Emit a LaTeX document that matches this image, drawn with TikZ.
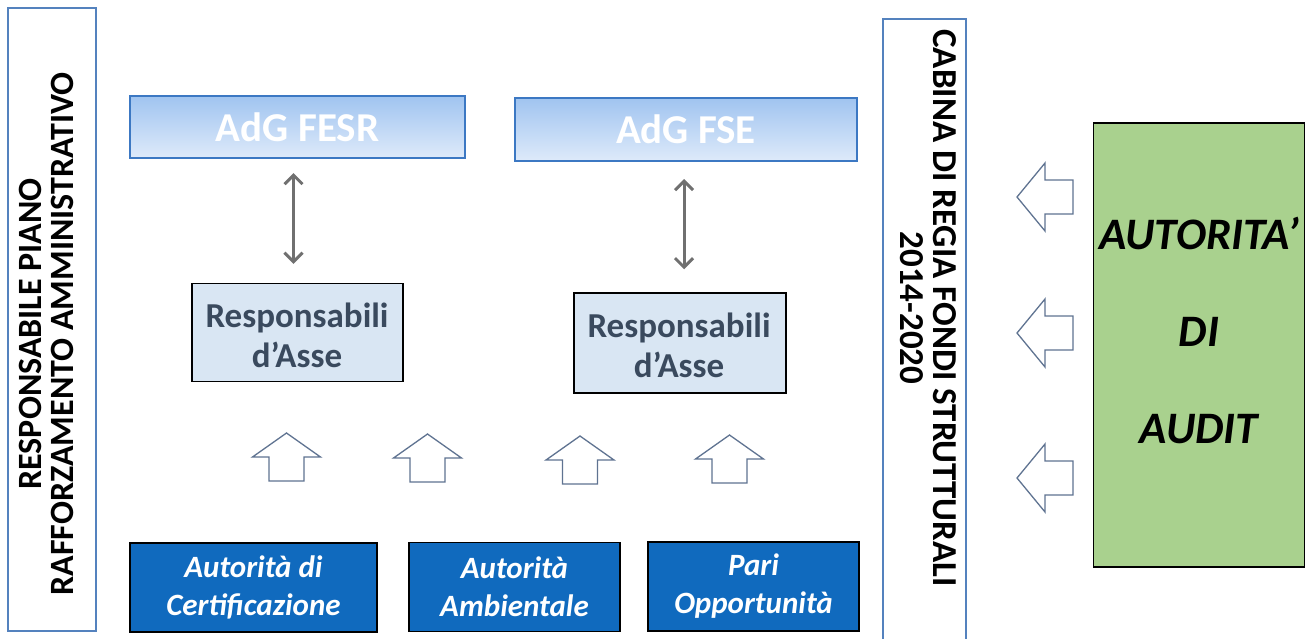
\documentclass[tikz,border=0pt]{standalone}
\usepackage{fontspec}
\setmainfont{Carlito}
\usetikzlibrary{arrows.meta}
\definecolor{frameblue}{RGB}{84,130,190}
\definecolor{adgtop}{RGB}{160,196,240}
\definecolor{adgbot}{RGB}{222,234,250}
\definecolor{adgline}{RGB}{60,120,195}
\definecolor{respfill}{RGB}{217,230,243}
\definecolor{resptext}{RGB}{58,74,94}
\definecolor{darkbluefill}{RGB}{16,106,190}
\definecolor{auditgreen}{RGB}{169,209,142}
\definecolor{outlinearrow}{RGB}{95,115,145}
\definecolor{grayarrow}{RGB}{112,112,112}
\begin{document}
\begin{tikzpicture}[x=1pt,y=-1pt,
  frame/.style={draw=frameblue, line width=1.2pt},
  adgbox/.style={draw=adgline, line width=2pt, top color=adgtop, bottom color=adgbot,
    minimum width=335pt, minimum height=62pt, inner sep=0pt, text=white,
    font=\fontsize{41}{46}\selectfont\bfseries},
  respbox/.style={draw=black, line width=1.5pt, fill=respfill, minimum width=211pt,
    minimum height=98pt, inner sep=0pt},
  resptxt/.style={align=center, text=resptext, inner sep=0pt,
    font=\fontsize{35}{40}\selectfont\bfseries},
  authbox/.style={draw=black, line width=1.5pt, fill=darkbluefill, minimum height=89pt,
    inner sep=0pt, align=center, text=white,
    font=\fontsize{31}{38}\selectfont\bfseries\itshape},
  dblarrow/.style={draw=grayarrow, line width=3pt, {Straight Barb[length=9pt,width=18pt]}-{Straight Barb[length=9pt,width=18pt]}},
  blockarrow/.style={draw=outlinearrow, line width=1.3pt, fill=white, line join=miter},
  uparrow/.pic={\path[blockarrow] (0,0) -- (34,24) -- (17.5,24) -- (17.5,48) -- (-17.5,48) -- (-17.5,24) -- (-34,24) -- cycle;},
  leftarrow/.pic={\path[blockarrow] (0,0) -- (28,-34) -- (28,-17) -- (56,-17) -- (56,17) -- (28,17) -- (28,34) -- cycle;}
]
\useasboundingbox (0,0) rectangle (1306,638);

% left frame
\node[frame, minimum width=88pt, minimum height=623pt, inner sep=0pt] (leftframe) at (52,319.5) {};
\node[rotate=90, align=center, font=\fontsize{34}{32}\selectfont\bfseries] (lefttext) at (46,334)
  {RESPONSABILE PIANO\\RAFFORZAMENTO AMMINISTRATIVO};

% AdG boxes
\node[adgbox] (fesr) at (297.5,127) {AdG FESR};
\node[adgbox, minimum width=342pt, minimum height=63pt] (fse) at (686,129.5) {AdG FSE};

% Responsabili
\node[respbox] (resp1) at (297.5,332.5) {};
\node[resptxt] (resp1txt) at (297,335) {Responsabili\\d’Asse};
\node[respbox, minimum width=212pt, minimum height=100pt] (resp2) at (680,343) {};
\node[resptxt] (resp2txt) at (679,345) {Responsabili\\d’Asse};

% double arrows
\draw[dblarrow, shorten <=14pt, shorten >=19pt] ([xshift=-4pt]fesr.south) -- ([xshift=-4pt]fesr.south |- resp1.north);
\draw[dblarrow, shorten <=17pt, shorten >=23pt] ([xshift=-2pt]fse.south) -- ([xshift=-2pt]fse.south |- resp2.north);

% up block arrows
\pic (ua1) at (286.5,433) {uparrow};
\pic (ua2) at (427.5,434) {uparrow};
\pic (ua3) at (580,436) {uparrow};
\pic (ua4) at (729.5,435) {uparrow};

% bottom authority boxes
\node[authbox, minimum width=247pt] (cert) at (253.5,587.5) {Autorità di\\Certificazione};
\node[authbox, minimum width=211pt] (amb) at (514.5,587) {Autorità\\Ambientale};
\node[authbox, minimum width=211pt] (pari) at (753.5,586.5) {Pari\\Opportunità};

% cabina di regia
\draw[frame] (883,640) -- (883,19) -- (966,19) -- (966,640);
\node[rotate=-90, align=center, font=\fontsize{35}{33}\selectfont\bfseries] (cabina) at (928.5,308)
  {CABINA DI REGIA FONDI STRUTTURALI\\2014-2020};

% left block arrows
\pic (la1) at (1017,197) {leftarrow};
\pic (la2) at (1017,333) {leftarrow};
\pic (la3) at (1017,478) {leftarrow};

% audit box
\node[draw=black, line width=1.8pt, fill=auditgreen, minimum width=211pt, minimum height=444pt, inner sep=0pt] (audit) at (1199,345) {};
\node[align=center, font=\fontsize{45}{97}\selectfont\bfseries\itshape] (audittext) at (1199,330)
  {AUTORITA’\\DI\\AUDIT};
\end{tikzpicture}
\end{document}
